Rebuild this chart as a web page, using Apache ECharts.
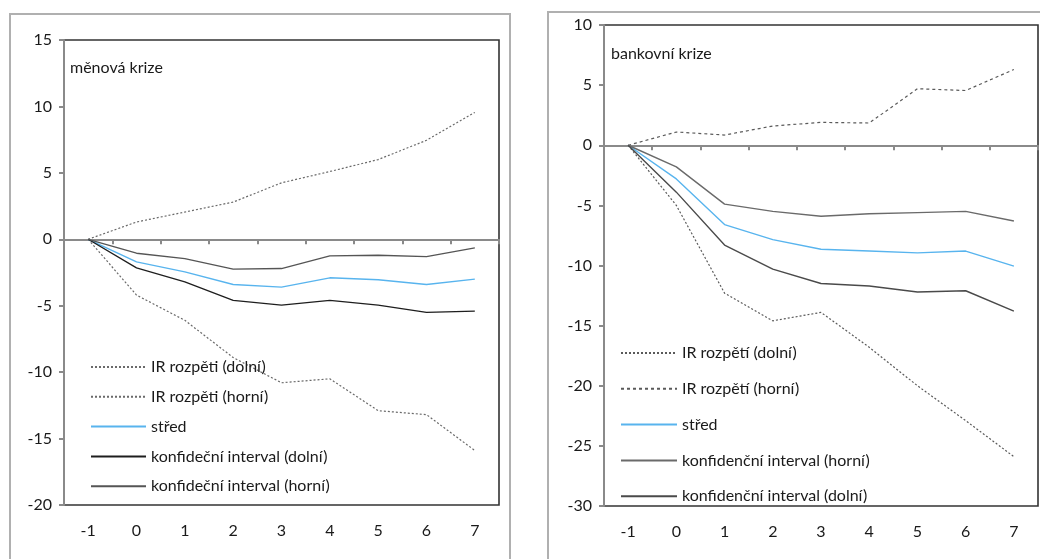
<!DOCTYPE html>
<html>
<head>
<meta charset="utf-8">
<script src="https://cdn.jsdelivr.net/npm/echarts@6/dist/echarts.min.js"></script>
<style>
html,body{margin:0;padding:0;background:#fff;}
#chart{width:1040px;height:559px;}
</style>
</head>
<body>
<div id="chart"></div>
<script>
// ---- data ----
const categories = ['-1','0','1','2','3','4','5','6','7'];

// měnová krize (left panel)
const mk_irLower  = [0, -4.2, -6.1, -8.9, -10.8, -10.5, -12.9, -13.2, -15.9];
const mk_irUpper  = [0, 1.3, 2.05, 2.8, 4.25, 5.1, 6.0, 7.45, 9.55];
const mk_mid      = [0, -1.7, -2.45, -3.4, -3.6, -2.9, -3.05, -3.4, -3.0];
const mk_ciLower  = [0, -2.15, -3.2, -4.6, -4.95, -4.6, -4.95, -5.5, -5.4];
const mk_ciUpper  = [0, -1.05, -1.45, -2.25, -2.2, -1.25, -1.2, -1.3, -0.65];

// bankovní krize (right panel)
const bk_irLower  = [0, -5.0, -12.3, -14.6, -13.9, -16.8, -20.0, -22.9, -25.9];
const bk_irUpper  = [0, 1.1, 0.85, 1.6, 1.9, 1.85, 4.7, 4.55, 6.3];
const bk_mid      = [0, -2.8, -6.6, -7.85, -8.65, -8.8, -8.95, -8.8, -10.05];
const bk_ciUpper  = [0, -1.8, -4.9, -5.5, -5.9, -5.7, -5.6, -5.5, -6.3];
const bk_ciLower  = [0, -3.9, -8.3, -10.3, -11.5, -11.7, -12.2, -12.1, -13.8];

const leftTitle = 'měnová krize';
const rightTitle = 'bankovní krize';
const leftNames = ['IR rozpěti (dolní)', 'IR rozpěti (horní)', 'střed', 'konfideční interval (dolní)', 'konfideční interval (horní)'];
const rightNames = ['IR rozpětí (dolní)', 'IR rozpětí (horní)', 'střed ', 'konfidenční interval (horní)', 'konfidenční interval (dolní)'];

// ---- chart ----
const FONT = 'Lato';
const TXT = '#1a1a1a';
const chart = echarts.init(document.getElementById('chart'), null, {renderer: 'canvas'});

function zeroAxis(grid) {
  return {
    type: 'category', gridIndex: grid, data: categories, boundaryGap: true,
    position: 'bottom',
    axisLine: {onZero: true, lineStyle: {color: '#8a8a8a', width: 2}},
    axisTick: {show: true, length: 5, lineStyle: {color: '#8a8a8a', width: 2}},
    axisLabel: {show: false},
    splitLine: {show: false}
  };
}
function labelAxis(grid) {
  return {
    type: 'category', gridIndex: grid, data: categories, boundaryGap: true,
    position: 'bottom',
    axisLine: {show: false, onZero: false},
    axisTick: {show: false},
    axisLabel: {show: true, margin: 18, color: TXT, fontFamily: FONT, fontSize: 16},
    splitLine: {show: false}
  };
}
function yAxis(grid, min, max) {
  return {
    type: 'value', gridIndex: grid, min: min, max: max, interval: 5,
    axisLine: {show: true, lineStyle: {color: '#8a8a8a', width: 2}},
    axisTick: {show: true, length: 5, lineStyle: {color: '#8a8a8a', width: 2}},
    axisLabel: {color: TXT, fontFamily: FONT, fontSize: 16, margin: 12},
    splitLine: {show: false}
  };
}
function dotted(name, data, xi, yi, color, dash) {
  return {name, type: 'line', data, xAxisIndex: xi, yAxisIndex: yi, symbol: 'none',
    lineStyle: {color: color, width: 1.2, type: dash}, itemStyle: {color: color}, animation: false, z: 2};
}
function solid(name, data, xi, yi, color, w) {
  return {name, type: 'line', data, xAxisIndex: xi, yAxisIndex: yi, symbol: 'none',
    lineStyle: {color: color, width: w || 1.4}, itemStyle: {color: color}, animation: false, z: 3};
}
const hiddenSymbol = {color: 'rgba(0,0,0,0)', borderColor: 'rgba(0,0,0,0)', borderWidth: 0, opacity: 0};

const option = {
  backgroundColor: '#fff',
  textStyle: {fontFamily: FONT},
  title: [
    {text: leftTitle, left: 70, top: 60, padding: 0, textStyle: {fontFamily: FONT, fontSize: 16, fontWeight: 'normal', color: TXT}},
    {text: rightTitle, left: 611, top: 46, padding: 0, textStyle: {fontFamily: FONT, fontSize: 16, fontWeight: 'normal', color: TXT}}
  ],
  graphic: [
    {type: 'rect', shape: {x: 10, y: 14, width: 500, height: 560}, style: {fill: 'none', stroke: '#b0b0b0', lineWidth: 2}, z: 0},
    {type: 'rect', shape: {x: 548, y: 12, width: 520, height: 560}, style: {fill: 'none', stroke: '#b0b0b0', lineWidth: 2}, z: 0}
  ],
  grid: [
    {left: 64, top: 40, width: 435, height: 465, show: true, borderColor: '#333', borderWidth: 1.6, backgroundColor: 'transparent'},
    {left: 604, top: 25, width: 434, height: 481, show: true, borderColor: '#333', borderWidth: 1.6, backgroundColor: 'transparent'}
  ],
  xAxis: [zeroAxis(0), labelAxis(0), zeroAxis(1), labelAxis(1)],
  yAxis: [yAxis(0, -20, 15), yAxis(1, -30, 10)],
  legend: [
    {
      data: leftNames, orient: 'vertical', left: 90, top: 359, padding: 0,
      itemWidth: 55, itemHeight: 14, itemGap: 13.8, selectedMode: false,
      itemStyle: hiddenSymbol,
      textStyle: {fontFamily: FONT, fontSize: 16, color: TXT}
    },
    {
      data: rightNames, orient: 'vertical', left: 620, top: 345, padding: 0,
      itemWidth: 56, itemHeight: 14, itemGap: 19.8, selectedMode: false,
      itemStyle: hiddenSymbol,
      textStyle: {fontFamily: FONT, fontSize: 16, color: TXT}
    }
  ],
  series: [
    dotted(leftNames[0], mk_irLower, 0, 0, '#6a6a6a', [2, 2]),
    dotted(leftNames[1], mk_irUpper, 0, 0, '#6a6a6a', [2, 2]),
    solid(leftNames[2], mk_mid, 0, 0, '#58b4ee', 1.4),
    solid(leftNames[3], mk_ciLower, 0, 0, '#1e1e1e', 1.3),
    solid(leftNames[4], mk_ciUpper, 0, 0, '#555555', 1.3),

    dotted(rightNames[0], bk_irLower, 2, 1, '#5a5a5a', [2, 2]),
    dotted(rightNames[1], bk_irUpper, 2, 1, '#5a5a5a', [3, 3]),
    solid(rightNames[2], bk_mid, 2, 1, '#58b4ee', 1.4),
    solid(rightNames[3], bk_ciUpper, 2, 1, '#6a6a6a', 1.4),
    solid(rightNames[4], bk_ciLower, 2, 1, '#4a4a4a', 1.4)
  ]
};
chart.setOption(option);
</script>
</body>
</html>
